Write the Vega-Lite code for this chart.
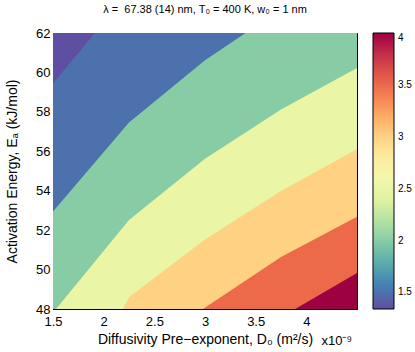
{
  "$schema": "https://vega.github.io/schema/vega-lite/v6.json",
  "width": 304,
  "height": 276,
  "autosize": {"type": "none"},
  "padding": {"left": 53, "top": 33, "right": 58, "bottom": 43},
  "title": {"text": "λ = \u00a067.38 (14) nm, T₀ = 400 K, w₀ = 1 nm", "fontSize": 11, "fontWeight": "normal", "offset": 12, "anchor": "middle", "color": "black"},
  "datasets": {
    "bounds": [
      {"band": 4, "D0": 1.5, "Ea": 48},
      {"band": 4, "D0": 4.5, "Ea": 48},
      {"band": 3.5, "D0": 1.5, "Ea": 48},
      {"band": 3.5, "D0": 3.89, "Ea": 48},
      {"band": 3.5, "D0": 4.5, "Ea": 49.82},
      {"band": 3, "D0": 1.5, "Ea": 48},
      {"band": 3, "D0": 2.98, "Ea": 48},
      {"band": 3, "D0": 3.75, "Ea": 50.64},
      {"band": 3, "D0": 4.5, "Ea": 52.68},
      {"band": 2.5, "D0": 1.5, "Ea": 48},
      {"band": 2.5, "D0": 2.19, "Ea": 48},
      {"band": 2.5, "D0": 2.25, "Ea": 48.59},
      {"band": 2.5, "D0": 3.0, "Ea": 51.52},
      {"band": 2.5, "D0": 3.75, "Ea": 53.98},
      {"band": 2.5, "D0": 4.5, "Ea": 56.1},
      {"band": 2, "D0": 1.5, "Ea": 48},
      {"band": 2, "D0": 1.53, "Ea": 48},
      {"band": 2, "D0": 2.25, "Ea": 52.52},
      {"band": 2, "D0": 3.0, "Ea": 55.62},
      {"band": 2, "D0": 3.75, "Ea": 58.12},
      {"band": 2, "D0": 4.5, "Ea": 60.23},
      {"band": 1.5, "D0": 1.5, "Ea": 52.94},
      {"band": 1.5, "D0": 2.25, "Ea": 57.46},
      {"band": 1.5, "D0": 3.0, "Ea": 60.62},
      {"band": 1.5, "D0": 3.4, "Ea": 62},
      {"band": 1.34, "D0": 1.5, "Ea": 59.44},
      {"band": 1.34, "D0": 1.914, "Ea": 62}
    ]
  },
  "data": {"name": "bounds"},
  "config": {
    "font": "Liberation Sans",
    "view": {"stroke": "black", "strokeWidth": 1},
    "axis": {"grid": false, "domainColor": "black", "tickColor": "black", "labelColor": "black", "titleColor": "black", "labelFontSize": 13, "titleFontSize": 14, "titleFontWeight": "normal", "tickSize": -4, "labelFont": "Liberation Sans", "titleFont": "Liberation Sans"}
  },
  "resolve": {"axis": {"x": "independent", "y": "independent"}},
  "layer": [
    {
      "transform": [{"filter": "datum.band == 4"}],
      "mark": {"type": "area", "interpolate": "linear"},
      "encoding": {
        "x": {"field": "D0", "type": "quantitative", "scale": {"domain": [1.5, 4.5], "nice": false, "zero": false},
              "axis": {"orient": "bottom", "values": [1.5, 2, 2.5, 3, 3.5, 4], "format": "~g", "labelPadding": 10, "title": "Diffusivity Pre−exponent, D₀ (m²/s)", "titlePadding": 4, "labelFlush": false}},
        "y": {"field": "Ea", "type": "quantitative", "stack": null, "scale": {"domain": [48, 62], "nice": false, "zero": false},
              "axis": {"orient": "left", "values": [48, 50, 52, 54, 56, 58, 60, 62], "labelPadding": 7, "title": "Activation Energy, Eₐ (kJ/mol)", "titlePadding": 16, "labelFlush": false}},
        "y2": {"datum": 62},
        "color": {"field": "band", "type": "quantitative",
                  "scale": {"scheme": "spectral", "reverse": true, "domain": [1.34, 4], "nice": false, "zero": false},
                  "legend": {"orient": "none", "legendX": 320, "legendY": 0, "direction": "vertical", "gradientLength": 276, "gradientThickness": 21, "title": null, "values": [1.5, 2, 2.5, 3, 3.5, 4], "format": "~g", "labelFontSize": 10, "labelColor": "black", "gradientStrokeColor": "black", "gradientStrokeWidth": 1, "labelOffset": 4, "padding": 0, "offset": 0}}
      }
    },
    {
      "transform": [{"filter": "datum.band == 3.5"}],
      "mark": {"type": "area", "interpolate": "linear"},
      "encoding": {
        "x": {"field": "D0", "type": "quantitative", "axis": {"orient": "top", "values": [1.5, 2, 2.5, 3, 3.5, 4], "labels": false, "title": null, "domain": false}},
        "y": {"field": "Ea", "type": "quantitative", "stack": null, "axis": {"orient": "right", "values": [48, 50, 52, 54, 56, 58, 60, 62], "labels": false, "title": null, "domain": false}},
        "y2": {"datum": 62},
        "color": {"field": "band", "type": "quantitative"}
      }
    },
    {
      "transform": [{"filter": "datum.band == 3"}],
      "mark": {"type": "area", "interpolate": "linear"},
      "encoding": {
        "x": {"field": "D0", "type": "quantitative", "axis": null},
        "y": {"field": "Ea", "type": "quantitative", "stack": null, "axis": null},
        "y2": {"datum": 62},
        "color": {"field": "band", "type": "quantitative"}
      }
    },
    {
      "transform": [{"filter": "datum.band == 2.5"}],
      "mark": {"type": "area", "interpolate": "linear"},
      "encoding": {
        "x": {"field": "D0", "type": "quantitative", "axis": null},
        "y": {"field": "Ea", "type": "quantitative", "stack": null, "axis": null},
        "y2": {"datum": 62},
        "color": {"field": "band", "type": "quantitative"}
      }
    },
    {
      "transform": [{"filter": "datum.band == 2"}],
      "mark": {"type": "area", "interpolate": "linear"},
      "encoding": {
        "x": {"field": "D0", "type": "quantitative", "axis": null},
        "y": {"field": "Ea", "type": "quantitative", "stack": null, "axis": null},
        "y2": {"datum": 62},
        "color": {"field": "band", "type": "quantitative"}
      }
    },
    {
      "transform": [{"filter": "datum.band == 1.5"}],
      "mark": {"type": "area", "interpolate": "linear"},
      "encoding": {
        "x": {"field": "D0", "type": "quantitative", "axis": null},
        "y": {"field": "Ea", "type": "quantitative", "stack": null, "axis": null},
        "y2": {"datum": 62},
        "color": {"field": "band", "type": "quantitative"}
      }
    },
    {
      "transform": [{"filter": "datum.band == 1.34"}],
      "mark": {"type": "area", "interpolate": "linear"},
      "encoding": {
        "x": {"field": "D0", "type": "quantitative", "axis": null},
        "y": {"field": "Ea", "type": "quantitative", "stack": null, "axis": null},
        "y2": {"datum": 62},
        "color": {"field": "band", "type": "quantitative"}
      }
    },
    {
      "data": {"values": [{"note": "x10⁻⁹"}]},
      "mark": {"type": "text", "align": "right", "baseline": "alphabetic", "dx": -5, "dy": 36, "fontSize": 13, "color": "black"},
      "encoding": {
        "x": {"datum": 4.5, "type": "quantitative", "axis": null},
        "y": {"datum": 48, "type": "quantitative", "axis": null},
        "text": {"field": "note", "type": "nominal"}
      }
    }
  ]
}
